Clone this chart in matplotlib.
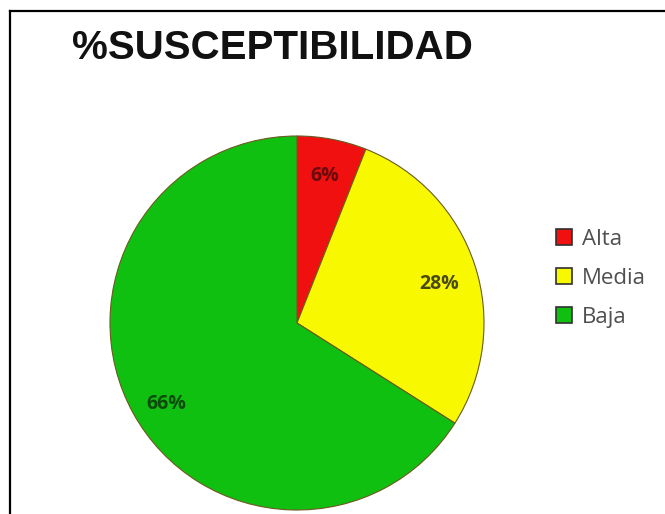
import matplotlib
matplotlib.use('Agg')
import matplotlib.pyplot as plt
from matplotlib.lines import Line2D

# Data
categories = ['Alta', 'Media', 'Baja']
shares = [6, 28, 66]
colors = ['#f01010', '#f8f800', '#10c010']
text_colors = ['#6a0a0a', '#4a4a10', '#0a4a0a']
label_drop = [0.0, 0.04, 0.05]
title = '%SUSCEPTIBILIDAD'

fig = plt.figure(figsize=(6.65, 5.14), dpi=100)
fig.patch.set_facecolor('white')

# pie axes: centre at (297, 323) px, radius 187 px
ax = fig.add_axes([110 / 665, 4 / 514, 374 / 665, 374 / 514])
wedges, texts, autotexts = ax.pie(
    shares, colors=colors, startangle=90, counterclock=False,
    autopct='%1.0f%%', pctdistance=0.8, radius=1.0,
    wedgeprops=dict(edgecolor='#6a5a20', linewidth=0.8),
    textprops=dict(fontsize=14, family='Open Sans', fontweight='bold'))
for t, c, d in zip(autotexts, text_colors, label_drop):
    t.set_color(c)
    # labels sit a little lower in the original
    x, y = t.get_position()
    t.set_position((x, y - d))
ax.set_xlim(-1, 1)
ax.set_ylim(-1, 1)
ax.set_aspect('equal')
ax.axis('off')

# title
fig.text(72 / 665, 1 - 48 / 514, title, fontsize=29, fontweight='bold',
         family='Liberation Sans', color='#111111', va='center', ha='left')

# legend
leg = fig.legend(wedges, categories, loc='upper left',
                 bbox_to_anchor=(556 / 665, 1 - 229 / 514),
                 frameon=False, handlelength=0.7, borderaxespad=0,
                 handleheight=0.7, handletextpad=0.45, labelspacing=0.8,
                 borderpad=0, prop=dict(family='Open Sans', size=16))
for txt in leg.get_texts():
    txt.set_color('#505050')
for h in leg.legend_handles:
    h.set_edgecolor('#303030')
    h.set_linewidth(1.2)

# frame lines on left and top
fig.add_artist(Line2D([10 / 665, 10 / 665], [0, 1 - 11 / 514],
                      transform=fig.transFigure, color='black', lw=1.6))
fig.add_artist(Line2D([10 / 665, 1], [1 - 11 / 514, 1 - 11 / 514],
                      transform=fig.transFigure, color='black', lw=1.6))

fig.savefig('out.png', dpi=100)
